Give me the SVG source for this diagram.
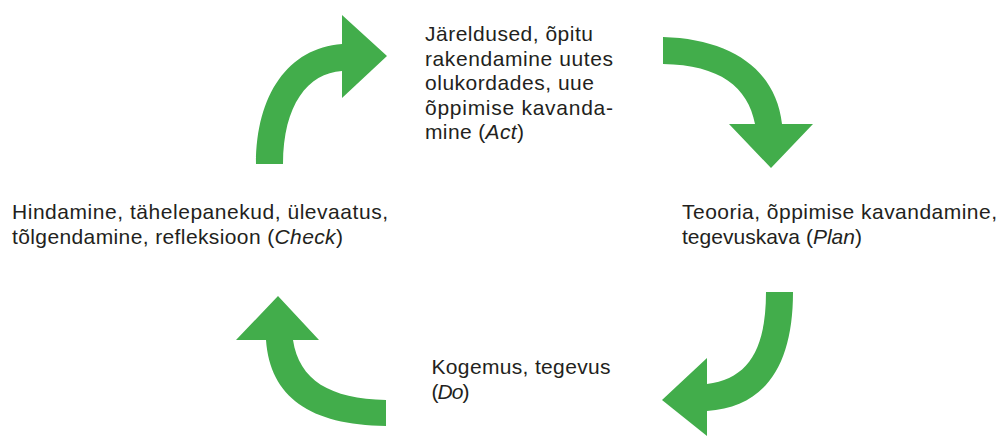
<svg xmlns="http://www.w3.org/2000/svg" width="1001" height="436" viewBox="0 0 1001 436">
<style>
.t{font-family:"Liberation Sans",Arial,sans-serif;font-size:21px;fill:#231f20}
.i{font-style:italic}
.arr{fill:#42ad4b}
</style>
<rect width="1001" height="436" fill="#fff"/>
<g id="connectors">
<path class="arr" d="M256,164 C256,95 288,48 342,44 L342,15 L387,56 L342,98 L342,71 C308,73 283,105 283,164 Z"/>
<path class="arr" d="M663,37 C732,39 776,70 782,124 L813,124 L771,168 L729,124 L755,124 C748,87 720,65 663,64 Z"/>
<path class="arr" d="M793,292 C793,366 765,407 707,411 L707,436 L662,400 L707,358 L707,384 C748,379 766,350 766,292 Z"/>
<path class="arr" d="M386,426 C310,425 270,397 266,340 L236,340 L278,296 L319,340 L293,340 C299,380 330,399 386,400 Z"/>
</g>
<g id="act">
<text class="t" x="425" y="41" textLength="168" lengthAdjust="spacing">Järeldused, õpitu</text>
<text class="t" x="425" y="65.5" textLength="188" lengthAdjust="spacing">rakendamine uutes</text>
<text class="t" x="425" y="90" textLength="169" lengthAdjust="spacing">olukordades, uue</text>
<text class="t" x="425" y="114.5" textLength="188" lengthAdjust="spacing">õppimise kavanda-</text>
<text class="t" x="425" y="139" textLength="99" lengthAdjust="spacing">mine (<tspan class="i">Act</tspan>)</text>
</g>
<g id="plan">
<text class="t" x="682" y="219" textLength="315" lengthAdjust="spacing">Teooria, õppimise kavandamine,</text>
<text class="t" x="682" y="243.5" textLength="180" lengthAdjust="spacing">tegevuskava (<tspan class="i">Plan</tspan>)</text>
</g>
<g id="check">
<text class="t" x="12" y="219" textLength="376" lengthAdjust="spacing">Hindamine, tähelepanekud, ülevaatus,</text>
<text class="t" x="12" y="243.5" textLength="331" lengthAdjust="spacing">tõlgendamine, refleksioon (<tspan class="i">Check</tspan>)</text>
</g>
<g id="do">
<text class="t" x="431.5" y="374" textLength="179" lengthAdjust="spacing">Kogemus, tegevus</text>
<text class="t" x="431.5" y="398.5" textLength="38" lengthAdjust="spacing">(<tspan class="i">Do</tspan>)</text>
</g>
</svg>
